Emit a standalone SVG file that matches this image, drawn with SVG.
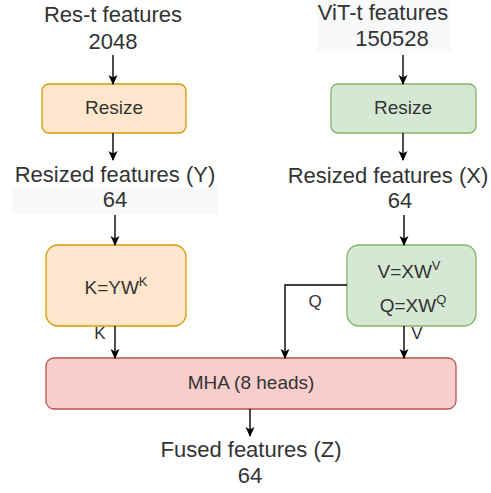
<svg xmlns="http://www.w3.org/2000/svg" width="491" height="493" viewBox="0 0 491 493">
<defs>
<marker id="ah" viewBox="0 0 10 10" refX="9" refY="5" markerWidth="10" markerHeight="10" markerUnits="userSpaceOnUse" orient="auto">
<path d="M0,0.5 L10,5 L0,9.5 L2.5,5 Z" fill="#000"/>
</marker>
<style>
text{font-family:"Liberation Sans",Arial,sans-serif;fill:#333;text-anchor:middle}
.big{font-size:22px}
.in{font-size:19px}
.sup{font-size:13px}
.lbl{font-size:17px}
.orange{fill:#ffe6cc;stroke:#d79b00;stroke-width:1.3}
.green{fill:#d5e8d4;stroke:#82b366;stroke-width:1.3}
.red{fill:#f8cecc;stroke:#b85450;stroke-width:1.3}
.c{fill:none;stroke:#000;stroke-width:1.4;marker-end:url(#ah)}
.bg{fill:#f8f9fa}
</style>
</defs>
<rect width="491" height="493" fill="#fff"/>

<g id="res-input">
<text class="big" x="113" y="22">Res-t features</text>
<text class="big" x="113" y="49">2048</text>
</g>
<g id="vit-input">
<rect class="bg" x="317" y="0" width="134" height="52"/>
<text class="big" x="383" y="20">ViT-t features</text>
<text class="big" x="392" y="46">150528</text>
</g>
<g id="resize-left">
<rect class="orange" x="42" y="84" width="144" height="49" rx="7"/>
<text class="in" x="114" y="114">Resize</text>
</g>
<g id="resize-right">
<rect class="green" x="331" y="84" width="145" height="49" rx="7"/>
<text class="in" x="403" y="114">Resize</text>
</g>
<g id="resized-y">
<rect class="bg" x="12" y="187" width="206" height="27"/>
<text class="big" x="115" y="182">Resized features (Y)</text>
<text class="big" x="115" y="207">64</text>
</g>
<g id="resized-x">
<text class="big" x="388" y="183">Resized features (X)</text>
<text class="big" x="400" y="208">64</text>
</g>
<g id="k-box">
<rect class="orange" x="46" y="245" width="140" height="81" rx="12"/>
<text class="in" x="116" y="294">K=YW<tspan class="sup" dy="-8">K</tspan></text>
</g>
<g id="vq-box">
<rect class="green" x="347" y="245" width="129" height="81" rx="12"/>
<text class="in" x="409" y="278">V=XW<tspan class="sup" dy="-8">V</tspan></text>
<text class="in" x="413" y="312">Q=XW<tspan class="sup" dy="-8">Q</tspan></text>
</g>
<g id="mha">
<rect class="red" x="46" y="358" width="410" height="51" rx="8"/>
<text class="in" x="251" y="389">MHA (8 heads)</text>
</g>
<g id="fused">
<text class="big" x="251" y="457">Fused features (Z)</text>
<text class="big" x="250" y="483">64</text>
</g>

<g id="connectors">
<path class="c" d="M113,55 V84"/>
<path class="c" d="M403,55 V84"/>
<path class="c" d="M113,133 V160"/>
<path class="c" d="M403,133 V160"/>
<path class="c" d="M115,215 V245"/>
<path class="c" d="M404,215 V245"/>
<path class="c" d="M115,326 V358"/>
<path class="c" d="M404,326 V358"/>
<path class="c" d="M347,285 H285 V358"/>
<path class="c" d="M250,409 V436"/>
<text class="lbl" x="100" y="339">K</text>
<text class="lbl" x="417" y="339">V</text>
<text class="lbl" x="315" y="307">Q</text>
</g>
</svg>
